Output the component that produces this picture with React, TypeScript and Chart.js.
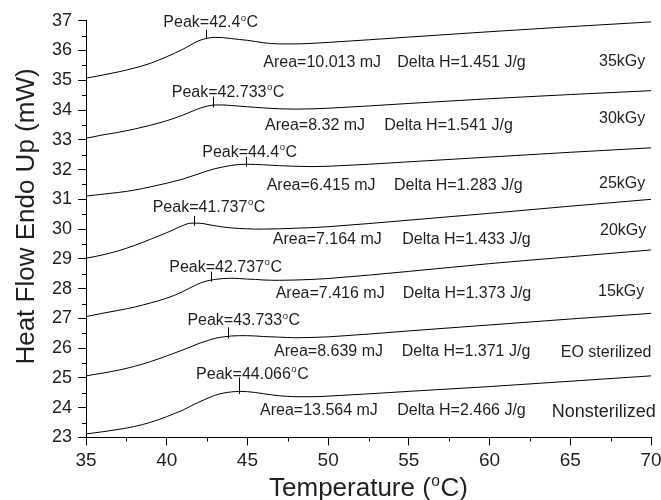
import React, { useEffect, useRef } from "react";
import { Chart, registerables } from "chart.js";
Chart.register(...registerables);

// ---------- data ----------
const temps = [35, 36, 37, 38, 39, 40, 40.5, 41, 41.5, 42, 42.5, 43, 43.5, 44, 44.5, 45, 45.5, 46, 47, 48, 49, 50, 55, 60, 65, 70];

const kGy35 = [35.07, 35.17, 35.28, 35.41, 35.57, 35.79, 35.91, 36.04, 36.19, 36.33, 36.41, 36.44, 36.43, 36.40, 36.37, 36.34, 36.30, 36.26, 36.22, 36.22, 36.24, 36.27, 36.45, 36.63, 36.80, 36.96];
const kGy30 = [33.05, 33.16, 33.25, 33.36, 33.49, 33.64, 33.73, 33.83, 33.94, 34.05, 34.13, 34.17, 34.17, 34.15, 34.13, 34.11, 34.09, 34.07, 34.04, 34.03, 34.04, 34.06, 34.22, 34.38, 34.52, 34.65];
const kGy25 = [31.11, 31.17, 31.23, 31.31, 31.42, 31.54, 31.61, 31.68, 31.77, 31.86, 31.95, 32.03, 32.09, 32.14, 32.17, 32.18, 32.17, 32.16, 32.13, 32.11, 32.10, 32.11, 32.26, 32.42, 32.58, 32.73];
const kGy20 = [29.02, 29.13, 29.27, 29.45, 29.66, 29.88, 30.00, 30.12, 30.20, 30.20, 30.16, 30.11, 30.07, 30.04, 30.02, 30.01, 30.00, 30.00, 30.01, 30.03, 30.05, 30.08, 30.30, 30.53, 30.77, 31.00];
const kGy15 = [27.06, 27.17, 27.27, 27.38, 27.52, 27.68, 27.78, 27.90, 28.04, 28.17, 28.26, 28.31, 28.34, 28.35, 28.34, 28.32, 28.31, 28.29, 28.28, 28.29, 28.31, 28.34, 28.58, 28.84, 29.07, 29.30];
const eoSterilized = [25.07, 25.16, 25.26, 25.39, 25.55, 25.74, 25.84, 25.94, 26.05, 26.16, 26.25, 26.33, 26.38, 26.41, 26.42, 26.42, 26.41, 26.39, 26.37, 26.35, 26.36, 26.38, 26.58, 26.78, 26.98, 27.17];
const nonSterilized = [23.12, 23.19, 23.27, 23.37, 23.51, 23.70, 23.81, 23.92, 24.06, 24.19, 24.31, 24.42, 24.49, 24.53, 24.55, 24.54, 24.51, 24.47, 24.40, 24.37, 24.37, 24.39, 24.55, 24.71, 24.89, 25.07];

const seriesValues = [kGy35, kGy30, kGy25, kGy20, kGy15, eoSterilized, nonSterilized];
const seriesNames = ["35kGy", "30kGy", "25kGy", "20kGy", "15kGy", "EO sterilized", "Nonsterilized"];
const peakTemps = ["42.4", "42.733", "44.4", "41.737", "42.737", "43.733", "44.066"];
const areas = ["10.013", "8.32", "6.415", "7.164", "7.416", "8.639", "13.564"];
const deltaH = ["1.451", "1.541", "1.283", "1.433", "1.373", "1.371", "2.466"];

// peak marker (temperature, bottom and top of the marker in mW)
const peakMarkX = [42.42, 42.89, 44.89, 41.69, 42.74, 43.81, 44.5];
const peakMarkBottom = [36.38, 34.09, 32.10, 30.11, 28.23, 26.33, 24.46];
const peakMarkTop = [36.69, 34.45, 32.43, 30.44, 28.57, 26.70, 25.02];

const xTicks = [35, 40, 45, 50, 55, 60, 65, 70];
const yTicks = [23, 24, 25, 26, 27, 28, 29, 30, 31, 32, 33, 34, 35, 36, 37];

// ---------- annotation layout (data coordinates) ----------
const peakLabelPos = [[39.79, 36.78], [40.31, 34.45], [42.2, 32.43], [39.13, 30.58], [40.16, 28.57], [41.28, 26.78], [41.82, 24.97]];
const areaLabelPos = [[45.98, 35.46], [46.09, 33.33], [46.19, 31.31], [46.57, 29.5], [46.75, 27.68], [46.65, 25.74], [45.78, 23.76]];
const deltaLabelX = [54.28, 53.48, 54.08, 54.59, 54.62, 54.56, 54.28];
const nameLabelPos = [[66.78, 35.48], [66.78, 33.55], [66.78, 31.38], [66.84, 29.8], [66.72, 27.74], [64.41, 25.72], [63.85, 23.68]];
const nameFontSize = [16, 16, 16, 16, 16, 16, 18];

const FONT = '"Liberation Sans", Arial, Helvetica, sans-serif';
const TEXT = "#231f20";

function drawDegText(ctx: CanvasRenderingContext2D, before: string, after: string, x: number, y: number, size: number, measureOnly = false): number {
  const small = size * 0.6;
  ctx.font = `${size}px ${FONT}`;
  const w1 = ctx.measureText(before).width;
  const w3 = ctx.measureText(after).width;
  ctx.font = `${small}px ${FONT}`;
  const w2 = ctx.measureText("o").width;
  const total = w1 + 0.5 + w2 + 0.5 + w3;
  if (measureOnly) return total;
  ctx.font = `${size}px ${FONT}`;
  ctx.fillText(before, x, y);
  ctx.font = `${small}px ${FONT}`;
  ctx.fillText("o", x + w1 + 0.5, y - size * 0.4);
  ctx.font = `${size}px ${FONT}`;
  ctx.fillText(after, x + w1 + 0.5 + w2 + 0.5, y);
  return total;
}

const overlayPlugin = {
  id: "overlay",
  afterDraw(chart: any) {
    const ctx: CanvasRenderingContext2D = chart.ctx;
    const xs = chart.scales.x;
    const ys = chart.scales.y;
    const area = chart.chartArea;
    ctx.save();
    // minor ticks
    ctx.strokeStyle = "#000";
    ctx.lineWidth = 1;
    ctx.beginPath();
    for (let i = 0; i < yTicks.length - 1; i++) {
      const v = (yTicks[i] + yTicks[i + 1]) / 2;
      const py = Math.round(ys.getPixelForValue(v)) + 0.5;
      ctx.moveTo(area.left, py);
      ctx.lineTo(area.left - 4, py);
    }
    for (let i = 0; i < xTicks.length - 1; i++) {
      const v = (xTicks[i] + xTicks[i + 1]) / 2;
      const px = Math.round(xs.getPixelForValue(v)) + 0.5;
      ctx.moveTo(px, area.bottom);
      ctx.lineTo(px, area.bottom + 4);
    }
    ctx.stroke();

    // peak markers
    ctx.beginPath();
    for (let i = 0; i < peakMarkX.length; i++) {
      const px = Math.round(xs.getPixelForValue(peakMarkX[i])) + 0.5;
      ctx.moveTo(px, ys.getPixelForValue(peakMarkBottom[i]));
      ctx.lineTo(px, ys.getPixelForValue(peakMarkTop[i]));
    }
    ctx.stroke();

    // annotations
    ctx.fillStyle = TEXT;
    ctx.textBaseline = "alphabetic";
    ctx.textAlign = "left";
    for (let i = 0; i < seriesNames.length; i++) {
      drawDegText(ctx, `Peak=${peakTemps[i]}`, "C", xs.getPixelForValue(peakLabelPos[i][0]), ys.getPixelForValue(peakLabelPos[i][1]), 16);
      ctx.font = `16px ${FONT}`;
      const ay = ys.getPixelForValue(areaLabelPos[i][1]);
      ctx.fillText(`Area=${areas[i]} mJ`, xs.getPixelForValue(areaLabelPos[i][0]), ay);
      ctx.fillText(`Delta H=${deltaH[i]} J/g`, xs.getPixelForValue(deltaLabelX[i]), ay);
      ctx.font = `${nameFontSize[i]}px ${FONT}`;
      ctx.fillText(seriesNames[i], xs.getPixelForValue(nameLabelPos[i][0]), ys.getPixelForValue(nameLabelPos[i][1]));
    }

    // axis titles
    const xtw = drawDegText(ctx, "Temperature (", "C)", 0, 0, 26, true);
    const cx = (area.left + area.right) / 2;
    drawDegText(ctx, "Temperature (", "C)", cx - xtw / 2, 496, 26);

    ctx.save();
    ctx.translate(33.5, 216.5);
    ctx.rotate(-Math.PI / 2);
    ctx.textAlign = "center";
    ctx.font = `26px ${FONT}`;
    ctx.fillText("Heat Flow Endo Up (mW)", 0, 0);
    ctx.restore();

    ctx.restore();
  },
};

export default function App() {
  const canvasRef = useRef<HTMLCanvasElement | null>(null);

  useEffect(() => {
    document.body.style.margin = "0";
    const canvas = canvasRef.current;
    if (!canvas) return;
    const datasets = seriesValues.map((vals, i) => ({
      label: seriesNames[i],
      data: temps.map((t, j) => ({ x: t, y: vals[j] })),
      borderColor: "#000",
      borderWidth: 1,
      pointRadius: 0,
      fill: false,
      cubicInterpolationMode: "monotone" as const,
    }));
    const chart = new Chart(canvas, {
      type: "line",
      data: { datasets },
      options: {
        responsive: false,
        animation: false,
        devicePixelRatio: 1,
        layout: { padding: { left: 0, top: 20.7, right: 10, bottom: 0 } },
        plugins: { legend: { display: false }, tooltip: { enabled: false }, title: { display: false } },
        scales: {
          x: {
            type: "linear",
            min: 35,
            max: 70,
            afterBuildTicks: (scale: any) => {
              scale.ticks = xTicks.map((v) => ({ value: v }));
            },
            afterFit: (scale: any) => {
              scale.height = 62.5;
              scale.paddingLeft = 0;
              scale.paddingRight = 0;
            },
            border: { display: true, color: "#000", width: 1 },
            grid: { drawOnChartArea: false, drawTicks: true, tickLength: 8, color: "#000", tickColor: "#000" },
            ticks: {
              autoSkip: false,
              maxRotation: 0,
              padding: 4,
              color: TEXT,
              font: { family: FONT, size: 19 },
              callback: (v: any) => String(v),
            },
          },
          y: {
            type: "linear",
            min: 23,
            max: 37,
            afterBuildTicks: (scale: any) => {
              scale.ticks = yTicks.map((v) => ({ value: v }));
            },
            afterFit: (scale: any) => {
              scale.width = 86;
              scale.paddingTop = 0;
              scale.paddingBottom = 0;
            },
            border: { display: true, color: "#000", width: 1 },
            grid: { drawOnChartArea: false, drawTicks: true, tickLength: 8, color: "#000", tickColor: "#000" },
            ticks: {
              autoSkip: false,
              padding: 6,
              color: TEXT,
              font: { family: FONT, size: 18 },
              callback: (v: any) => String(v),
            },
          },
        },
      },
      plugins: [overlayPlugin],
    });
    return () => chart.destroy();
  }, []);

  return (
    <div style={{ width: 661, height: 500 }}>
      <canvas ref={canvasRef} width={661} height={500} style={{ display: "block" }} />
    </div>
  );
}
